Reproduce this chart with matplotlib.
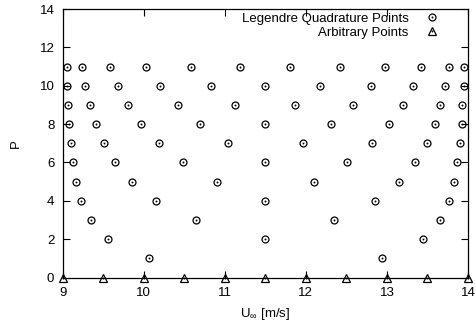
import matplotlib
matplotlib.use("Agg")
import matplotlib.pyplot as plt
from matplotlib.legend_handler import HandlerTuple

plt.rcParams['font.family'] = ['Liberation Sans', 'DejaVu Sans']
plt.rcParams['mathtext.fontset'] = 'custom'
plt.rcParams['mathtext.rm'] = 'Liberation Sans'
plt.rcParams['mathtext.it'] = 'Liberation Sans'

# Quadrature points, U [m/s] for each level P
quad_p1 = [10.06, 12.94]
quad_p2 = [9.56, 11.50, 13.44]
quad_p3 = [9.35, 10.65, 12.35, 13.65]
quad_p4 = [9.23, 10.15, 11.50, 12.85, 13.77]
quad_p5 = [9.17, 9.85, 10.90, 12.10, 13.15, 13.83]
quad_p6 = [9.13, 9.65, 10.49, 11.50, 12.51, 13.35, 13.87]
quad_p7 = [9.10, 9.51, 10.19, 11.04, 11.96, 12.81, 13.49, 13.90]
quad_p8 = [9.08, 9.41, 9.97, 10.69, 11.50, 12.31, 13.03, 13.59, 13.92]
quad_p9 = [9.07, 9.34, 9.80, 10.42, 11.13, 11.87, 12.58, 13.20, 13.66, 13.93]
quad_p10 = [9.05, 9.28, 9.68, 10.20, 10.83, 11.50, 12.17, 12.80, 13.32, 13.72, 13.95]
quad_p11 = [9.05, 9.24, 9.58, 10.03, 10.58, 11.19, 11.81, 12.42, 12.97, 13.42, 13.76, 13.95]
quad_levels = [1, 2, 3, 4, 5, 6, 7, 8, 9, 10, 11]
quad_points = [quad_p1, quad_p2, quad_p3, quad_p4, quad_p5, quad_p6,
               quad_p7, quad_p8, quad_p9, quad_p10, quad_p11]

# Arbitrary points at P = 0
arb_x = [9.0, 9.5, 10.0, 10.5, 11.0, 11.5, 12.0, 12.5, 13.0, 13.5, 14.0]
arb_p = [0] * len(arb_x)

qx = []
qy = []
for p, xs in zip(quad_levels, quad_points):
    qx += xs
    qy += [p] * len(xs)

fig = plt.figure(figsize=(4.76, 3.25), dpi=100)
ax = fig.add_axes([62.7 / 476, 1 - 277.5 / 325, (468 - 62.7) / 476, (277.5 - 9) / 325])

circ, = ax.plot(qx, qy, ls='none', marker='o', ms=5, mfc='none', mec='black', mew=0.9, clip_on=False)
cdot, = ax.plot(qx, qy, ls='none', marker='o', ms=1.4, mfc='black', mec='black', mew=0, clip_on=False)
tri, = ax.plot(arb_x, arb_p, ls='none', marker='^', ms=5.5, mfc='none', mec='black', mew=0.9, clip_on=False, zorder=5)
tdot, = ax.plot(arb_x, arb_p, ls='none', marker='o', ms=1.4, mfc='black', mec='black', mew=0, clip_on=False, zorder=5)

ax.set_xlim(9, 14)
ax.set_ylim(0, 14)
ax.set_xticks([9, 10, 11, 12, 13, 14])
ax.set_yticks([0, 2, 4, 6, 8, 10, 12, 14])
ax.tick_params(direction='in', length=5, width=0.8, top=True, right=True, labelsize=9.5, colors='black')
ax.tick_params(axis='x', pad=7)
ax.tick_params(axis='y', pad=6)
for s in ax.spines.values():
    s.set_linewidth(0.9)

ax.set_xlabel(r'U$_\infty$ [m/s]', fontsize=9.5, labelpad=5)
ax.set_ylabel('P', fontsize=9.5, labelpad=13)

leg = ax.legend([(circ, cdot), (tri, tdot)], ['Legendre Quadrature Points', 'Arbitrary Points'],
                handler_map={tuple: HandlerTuple(ndivide=1)}, markerfirst=False,
                frameon=False, fontsize=9.5, loc='upper right', bbox_to_anchor=(0.951, 1.02),
                handlelength=1.0, handletextpad=1.3, labelspacing=0.1, borderpad=0.2)

fig.savefig('out.png', dpi=100)
